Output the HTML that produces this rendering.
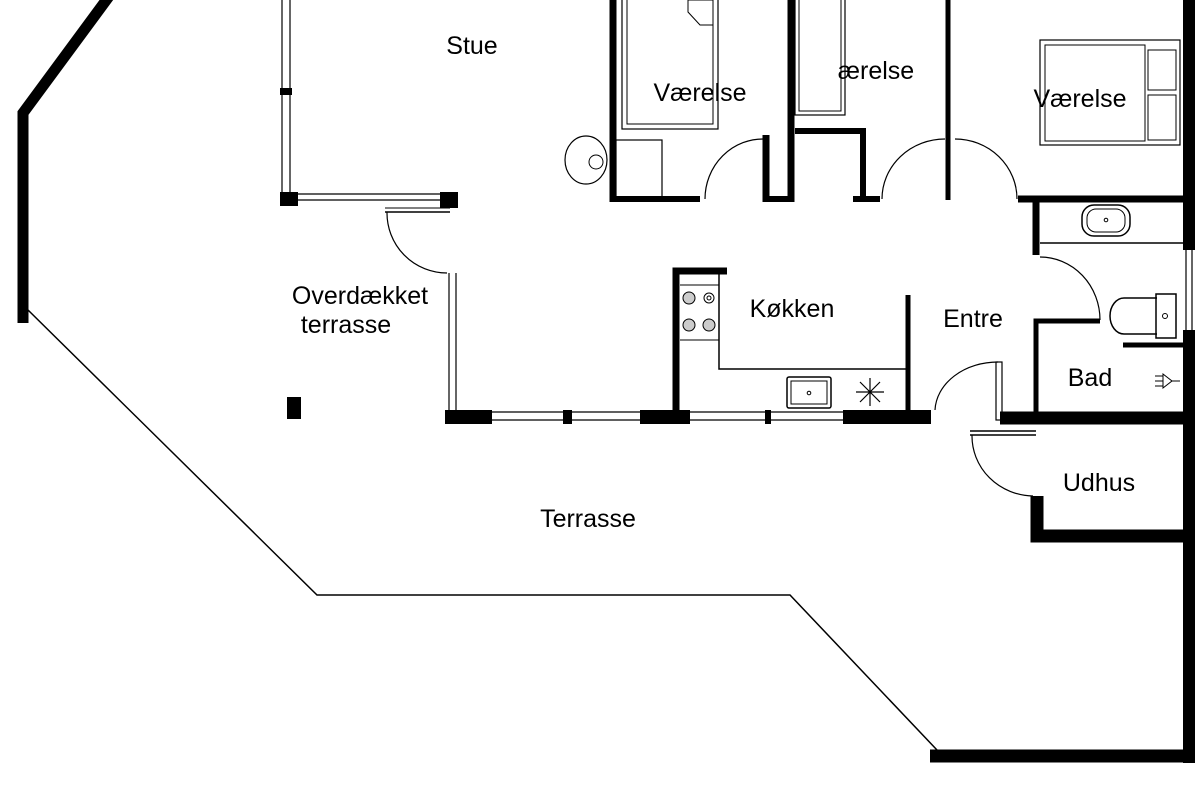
<!DOCTYPE html>
<html><head><meta charset="utf-8"><style>body{margin:0;background:#fff}svg{display:block}text{font-family:"Liberation Sans",sans-serif;font-size:25px;fill:#000;text-anchor:middle}</style></head><body>
<svg width="1200" height="800" viewBox="0 0 1200 800" xmlns="http://www.w3.org/2000/svg">
<g fill="none" stroke="#000">
<polyline points="110,-5 23,113 23,323" stroke-width="11" stroke-linejoin="miter"/>
<polyline points="28,310 317,595 790,595 937,750" stroke-width="1.5"/>
<line x1="282" y1="0" x2="282" y2="195" stroke-width="1.2"/><line x1="290" y1="0" x2="290" y2="195" stroke-width="1.2"/>
<line x1="298" y1="194" x2="440" y2="194" stroke-width="1.2"/><line x1="298" y1="200" x2="440" y2="200" stroke-width="1.2"/>
<line x1="385" y1="212" x2="450" y2="212" stroke-width="1.5"/><line x1="385" y1="208" x2="450" y2="208" stroke-width="1"/>
<path d="M387,212 A60,60 0 0 0 447,273" stroke-width="1.2"/>
<line x1="449" y1="273" x2="449" y2="412" stroke-width="1.2"/><line x1="456" y1="273" x2="456" y2="412" stroke-width="1.2"/>
<line x1="490" y1="412" x2="930" y2="412" stroke-width="1.2"/><line x1="490" y1="420" x2="930" y2="420" stroke-width="1.2"/>
<polyline points="676,410 676,271 727,271" stroke-width="7"/>
<polyline points="719,274 719,369 906,369" stroke-width="1.5"/>
<line x1="680" y1="285" x2="719" y2="285" stroke-width="1"/><line x1="680" y1="340" x2="719" y2="340" stroke-width="1"/>
<line x1="908" y1="295" x2="908" y2="412" stroke-width="5"/>
<rect x="787" y="377" width="44" height="31" stroke-width="1.5" rx="2"/><rect x="791" y="381" width="36" height="23" stroke-width="1"/>
<circle cx="809" cy="393" r="1.8" stroke-width="1"/>
<path d="M856,392h28M870,378v28M860,382l20,20M880,382l-20,20" stroke-width="1.2"/>
<path d="M935,410 A63,50 0 0 1 998,362" stroke-width="1.2"/>
<rect x="996" y="362" width="6" height="58" stroke-width="1.2"/>
<line x1="613" y1="0" x2="613" y2="202" stroke-width="7"/>
<polyline points="610,199 700,199" stroke-width="6"/>
<rect x="622" y="-5" width="96" height="134" stroke-width="1.2"/><rect x="627" y="-5" width="86" height="129" stroke-width="1"/>
<path d="M688,0 L713,0 L713,25 L700,25 L688,12 Z" stroke-width="1"/>
<rect x="616" y="140" width="46" height="60" stroke-width="1.2"/>
<ellipse cx="586" cy="160" rx="21" ry="24" stroke-width="1.2"/><circle cx="596" cy="162" r="7" stroke-width="1"/>
<path d="M705,199 A58,60 0 0 1 765,139" stroke-width="1.2"/>
<line x1="766" y1="135" x2="766" y2="202" stroke-width="7"/><line x1="763" y1="199" x2="792" y2="199" stroke-width="6"/>
<line x1="791" y1="0" x2="791" y2="202" stroke-width="7"/>
<rect x="795" y="-5" width="50" height="120" stroke-width="1.2"/><rect x="799" y="-5" width="42" height="116" stroke-width="1"/>
<path d="M795,131 H863 V200" stroke-width="6"/>
<line x1="853" y1="199" x2="880" y2="199" stroke-width="6"/>
<path d="M882,199 A63,60 0 0 1 945,139" stroke-width="1.2"/>
<line x1="948" y1="0" x2="948" y2="200" stroke-width="5"/>
<path d="M955,139 A62,60 0 0 1 1017,199" stroke-width="1.2"/>
<line x1="1018" y1="199" x2="1190" y2="199" stroke-width="7"/>
<rect x="1040" y="40" width="140" height="105" stroke-width="1.2"/><rect x="1045" y="45" width="100" height="96" stroke-width="1"/>
<rect x="1148" y="50" width="28" height="40" stroke-width="1"/><rect x="1148" y="95" width="28" height="45" stroke-width="1"/>
<line x1="1189" y1="0" x2="1189" y2="250" stroke-width="12"/>
<line x1="1186" y1="250" x2="1186" y2="330" stroke-width="1.2"/><line x1="1192" y1="250" x2="1192" y2="330" stroke-width="1.2"/>
<line x1="1189" y1="330" x2="1189" y2="763" stroke-width="12"/>
<line x1="1036" y1="199" x2="1036" y2="255" stroke-width="7"/>
<line x1="1040" y1="243" x2="1183" y2="243" stroke-width="1.5"/>
<rect x="1082" y="205" width="48" height="31" rx="12" stroke-width="1.5"/><rect x="1087" y="209" width="38" height="23" rx="9" stroke-width="1"/>
<circle cx="1106" cy="220" r="1.8" stroke-width="1"/>
<path d="M1040,257 A60,63 0 0 1 1100,320" stroke-width="1.2"/>
<polyline points="1100,321 1036,321 1036,412" stroke-width="5"/>
<path d="M1157,298 H1124 A14,18 0 0 0 1124,334 H1157" stroke-width="1.5"/>
<rect x="1156" y="294" width="20" height="44" stroke-width="1.5"/><circle cx="1165" cy="316" r="2.5" stroke-width="1"/>
<line x1="1123" y1="345" x2="1185" y2="345" stroke-width="5"/>
<path d="M1155,376h8M1155,381h8M1155,386h8M1163,374 L1172,381 L1163,388 Z M1172,381 H1180" stroke-width="1"/>
<line x1="1000" y1="418" x2="1190" y2="418" stroke-width="13"/>
<line x1="970" y1="431" x2="1036" y2="431" stroke-width="1.5"/><line x1="970" y1="435" x2="1036" y2="435" stroke-width="1.5"/>
<path d="M972,435 A62,60 0 0 0 1033,496" stroke-width="1.2"/>
<polyline points="1037,496 1037,536 1190,536" stroke-width="13"/>
<line x1="930" y1="756" x2="1195" y2="756" stroke-width="13"/>
</g>
<g fill="#000">
<rect x="280" y="88" width="12" height="7"/>
<rect x="280" y="192" width="18" height="14"/>
<rect x="440" y="192" width="18" height="16"/>
<rect x="445" y="410" width="47" height="14"/>
<rect x="563" y="410" width="9" height="14"/>
<rect x="640" y="410" width="50" height="14"/>
<rect x="765" y="410" width="6" height="14"/>
<rect x="843" y="410" width="88" height="14"/>
<rect x="287" y="397" width="14" height="22"/>
</g>
<g fill="#ccc" stroke="#000" stroke-width="1">
<circle cx="689" cy="298" r="6"/><circle cx="709" cy="298" r="5" fill="#fff"/><circle cx="709" cy="298" r="2" fill="#fff"/>
<circle cx="689" cy="325" r="6"/><circle cx="709" cy="325" r="6"/>
</g>
<text x="472" y="54">Stue</text>
<text x="700" y="101">Værelse</text>
<text x="876" y="79">ærelse</text>
<text x="1080" y="107">Værelse</text>
<text x="792" y="317">Køkken</text>
<text x="973" y="327">Entre</text>
<text x="1090" y="386">Bad</text>
<text x="1099" y="491">Udhus</text>
<text x="360" y="304">Overdækket</text>
<text x="346" y="333">terrasse</text>
<text x="588" y="527">Terrasse</text>
</svg>
</body></html>
